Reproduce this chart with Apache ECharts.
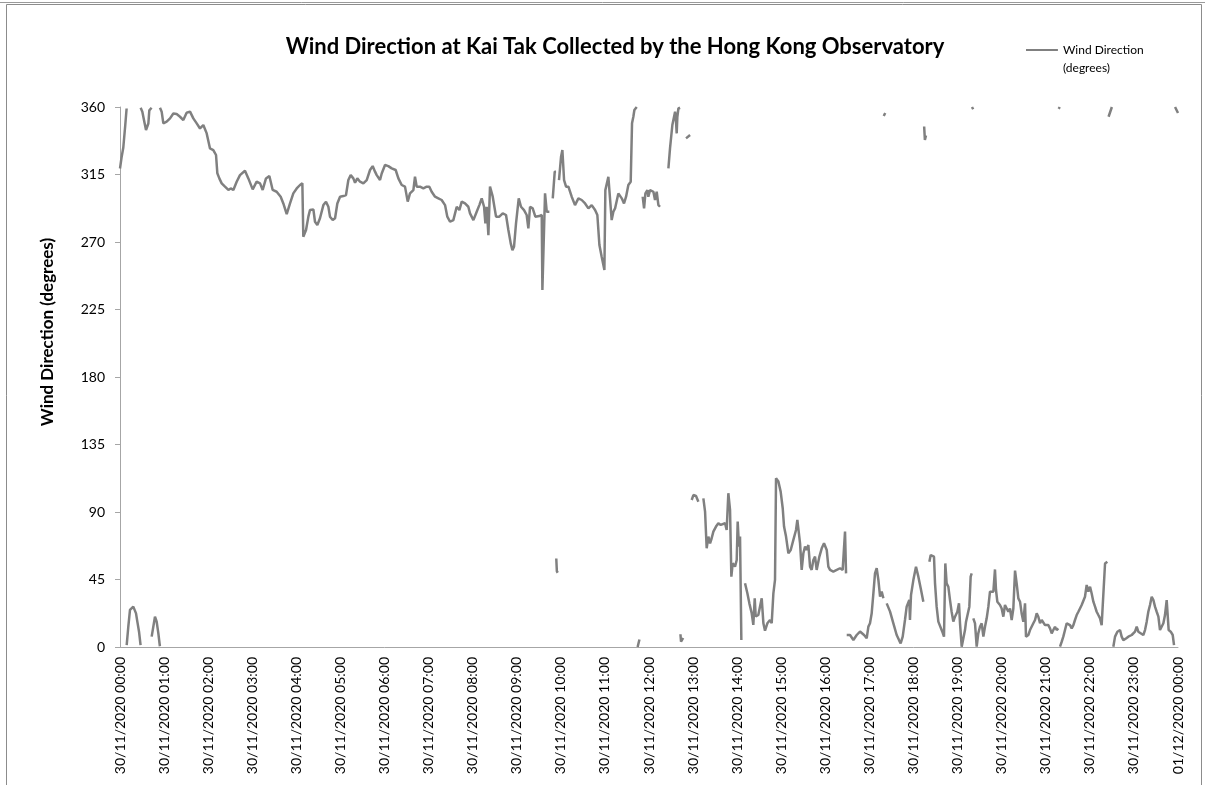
<!DOCTYPE html>
<html>
<head>
<meta charset="utf-8">
<script src="https://cdn.jsdelivr.net/npm/echarts@6/dist/echarts.min.js"></script>
<style>
html,body{margin:0;padding:0;background:#fff;}
#chart{width:1205px;height:785px;}
</style>
</head>
<body>
<div id="chart"></div>
<script>
// Hour tick labels (one per 60 minutes)
const tickLabels = [
  "30/11/2020 00:00","30/11/2020 01:00","30/11/2020 02:00","30/11/2020 03:00",
  "30/11/2020 04:00","30/11/2020 05:00","30/11/2020 06:00","30/11/2020 07:00",
  "30/11/2020 08:00","30/11/2020 09:00","30/11/2020 10:00","30/11/2020 11:00",
  "30/11/2020 12:00","30/11/2020 13:00","30/11/2020 14:00","30/11/2020 15:00",
  "30/11/2020 16:00","30/11/2020 17:00","30/11/2020 18:00","30/11/2020 19:00",
  "30/11/2020 20:00","30/11/2020 21:00","30/11/2020 22:00","30/11/2020 23:00",
  "01/12/2020 00:00"
];

// Minutes after 30/11/2020 00:00 of each reading (null degrees = gap in the line)
const minutes = [
  0,2,4.5,7,9, 9.05,
  9.1,11.3,13.6,18.1,21.8,23.6,25.9,28, 28.05,
  28.1,30.4,33.1,35.4,37.2,38.6,39.9,43, 43.05,
  43.1,47.6,49.9,52.2,54.3, 54.35,
  54.4,56.7,59,61.3,63.5,68.1,72.6,77.1,81.7,86.2,
  90.7,95.3,99.8,104.4,108.9,113.4,118,122.5,127,130.7,
  132.5,135.2,138.4,142.9,147.5,150.6,154.3,158.8,163.3,170.1,
  174.7,180.6,186,190.6,194.2,198.7,203.3,207.8,213.2,218.7,
  222.3,226.9,231.4,235.9,240.5,245,248.2,249.5,253.2,256.4,
  258.6,263.2,265.4,268.6,272.2,274.5,276.8,280.4,283.6,285.8,
  289.5,292.7,295.8,299.5,304,307.6,310.8,314,317.6,319.9,
  323,326.7,331.2,335.8,340.3,343.9,347.1,349.4,353.9,356.2,
  360.7,365.2,369.8,375.2,378.9,383.4,387.9,391.6,394.7,399.3,
  401.5,403.8,408.3,412.9,417.4,421,424.2,428.8,433.3,437.8,
  442.4,445.5,449.2,453.7,458.3,461.9,465.1,469.6,474.1,476.4,
  481,485.5,489.1,492.3,495.5,497.3,499.1,501.4,503.6,507.3,
  511.8,516.3,520.9,525.4,528.6,531.8,534.1,536.3,539,542.7,
  545.8,549.9,553.5,555.8,558.1,561.7,565.3,570.8,574,574.9,
  577.1,578.5,580.8,584.4, 586.5,
  589,591.7,593.5, 593.6,
  593.8,594.6,595.8, 596.5,
  597.5,600.3,602.1,603.5,604.4,607.1,610.3,614.8,619.3,623.9,
  628.4,633,637.5,642,646.6,649.7,652.5,655.6,659.3,660.6,
  664.7,667,669.2,671.5,673.8,678.3,682.9,686,688.8,691.9,
  695.1,696.9,698.7,700.1,703.3, 704,
  704.5,707, 709,
  711.4,713.3,715.1,717.8,719.1,721.4,726,728.2,730.5,732.8,735, 740,
  746.4,748.6,751.8,754.1,755.5,756.8,757.7,758.6,760,762.3, 762.5,
  762.8,763.6,766.5, 768,
  770.4,775.9, 777,
  778.1,780.4,784,787.2, 790,
  794,796.3,798.5,800.8,803.1,805.3,807.6,811.2,814.4,817.6,
  820.3,823.5,825.7,828,830.3,832.1,833.9,837.1,839.4,840.7,
  842.5,843.9,845.7, 848,
  850.7,853.9,856.6,859.8,862,863.9,865.2,868.8,873.4,875.7,
  877.9,881.1,884.7,887,889.3,891.5,892.9,896.1,899.2,902,
  903.8,906.5,909.7,912.9,916.5,920.1,921.9,923.7,925.6,927.8,
  930.1,932.4,934.6,936.9,939.2,941.4,943.7,946,948.2,951.9,
  955.1,958.2,961.9,964.1,966.4,970.9,975.5,980,983.6,986.8,
  988.2, 988.6,
  989.1,993.6,998.2,1002.7,1007.2,1009.5,1012.7,1016.3,1018.6,1020.8,
  1023.1,1025.4,1027.6,1029.9,1032.2,1034.5,1036.7,1039, 1039.2,
  1039.5,1041.5, 1042.5,
  1043.5,1045.8,1048.1,1052.6,1057.1,1060.3,1062.5,1065.3,1068.4,1070.7,
  1074.3,1075.2,1076.6,1079.8,1083.4,1086.6,1089.8,1093.4, 1094,
  1094.5,1095.5,1097, 1099,
  1101.6,1103.4,1107.9,1109.3,1111.5,1113.8,1116.1,1119.2,1121.5,1123.3,
  1125.1,1127.4,1129.7,1131.9,1134.2,1136.5,1139.7,1141.9,1143.3,1145.6,
  1147.8,1150.1,1151.5,1153.3,1156,1157.8,1159.2, 1159.4,
  1159.6,1161.2, 1161.3,
  1161.4,1163.7,1166,1168.2,1170.5,1172.8,1175.1,1177.3,1179.6,1181.9,
  1184.1,1186.4,1188.7,1190.9,1192.3,1194.1,1197.7,1200,1202.3,1204.5,
  1206.8,1209.1,1211.3,1213.6,1215.9,1218.2,1220.4,1222.7,1225,1227.2,
  1229.5,1231.8,1233.1,1236.3,1238.6,1240.8,1243.1,1245.4,1247.7,1249.9,
  1252.2,1254.5,1256.7,1259,1261.3,1263.5,1265.8,1268.1,1270.3,1272.6,
  1274.9,1277.1, 1277.3,
  1277.6,1279, 1279.2,
  1279.4,1281.7,1283.9,1286.2,1288.5,1290.7,1293,1295.3,1297.6,1299.8,
  1302.1,1304.4,1306.6,1308.9,1311.2,1313.4,1315.7,1318,1320.3,1322.5,
  1324.8,1327.1,1329.3,1331.6,1333.9,1336.1,1338.4,1340.7,1343.8, 1344.5,
  1345.5,1350, 1351,
  1352,1354.3,1357.5,1361.1,1363.3,1365.6,1369.2,1372.4,1374.7,1377,
  1379.2,1381.5,1383.8,1386,1388.3,1392.8,1395.1,1397.4,1399.6,1401.9,
  1404.2,1406.5,1408.7,1411,1413.3,1415.5,1417.8,1420.1,1422.3,1424.6,
  1426,1427.3,1430.1,1432.8,1434.6, 1435.3,
  1436,1440
];

// Wind direction in degrees for each reading above
const degrees = [
  319,326,333,347,359, null,
  1.3,13.5,24.7,26.9,22.4,16.9,10.2,1.3, null,
  359.5,356.9,350.2,344.7,343.6,349,357.8,359.5, null,
  6.9,20.2,16.9,9.1,0.5, null,
  359.5,356.9,349.1,348,350.2,352.4,355.7,355.3,353.5,351.3,
  356.2,356.9,352.4,349.1,345.7,348,342.4,332.4,331.3,328,
  315.8,312.4,309.1,306.9,304.7,305.7,304.7,310.2,314.6,317.5,
  312.4,305.1,310.2,309.1,304.7,312.4,314,304.7,303.5,300.2,
  295.7,288.6,295.7,302.4,305.7,308,309.1,273.5,278,286.9,
  291.3,291.7,283.5,281.3,285.8,285.8,294.6,296.9,293.5,286.9,
  284.6,285.8,295.7,300.2,300.6,301.3,311.3,314.6,312.4,309.5,
  312.4,310.2,309.1,311.3,318,320.6,316.9,314.6,311.3,315.7,
  321.3,320.6,319.1,318,312.4,308,306.9,296.9,302.4,304.6,
  313.5,306.9,306.9,305.8,306.9,306.9,303.5,300.2,299.1,298,
  294.6,286.9,283.5,284.6,293.5,291.3,296.9,295.7,293.5,289.1,
  284.6,290.2,294.6,299.1,293.5,282.4,293.5,274.6,306.9,300.2,
  286.9,286.9,289.1,288,278,269.1,264.6,266.9,282.4,299.1,
  293.5,291.3,288,279.1,293.5,292.4,286.9,287.3,288,238,
  239.1,302.4,290.2,290.2, null,
  299.1,316.9,316.9, null,
  59,50.5,49.5, null,
  311.3,326.9,331.3,330.2,311.3,306.9,306.9,300.2,294.6,299.1,
  298,295.7,292.4,294.6,291.3,288,268,260.2,251.3,304.6,
  313.5,313.1,284.6,290.2,292.4,302.4,299.1,295.7,300.2,308,
  310.2,349.1,353.5,358,360, null,
  0,5, null,
  300.2,292.4,302.4,304.6,300.2,304.6,303.5,298,303.5,294.6,293.5, null,
  319.1,332.4,348,353.5,356.9,350,342.4,353.5,359,359.5, null,
  8.5,3.5,6, null,
  339.1,341.3, null,
  98,101.3,100.7,96.9, null,
  99.1,90.3,65.8,73.6,69.1,72.5,76.9,80.3,82.5,81.4,
  80.3,82.5,78,102.5,91.4,46.9,55.8,53.6,58,83.6,
  66.9,73.6,4.7, null,
  42.5,35.8,29.1,22.5,14.7,32.5,20.3,21.4,32.5,15.8,
  10.9,15.8,18,15.8,35.8,44.7,112.5,110.3,103.6,92.5,
  80.3,73.6,62.5,64.7,71.4,78,84.7,83.6,69.1,51.4,
  62.5,66.9,64.7,68,53.6,51.4,58,60.3,51.4,60.3,
  65.8,69.1,64.7,53.6,51.4,50.3,51.4,52.5,51.4,76.9,
  49.1, null,
  8,8,4.7,8,10.3,11.4,8,5.8,13.6,15.8,
  22.5,35.8,49.1,52.5,44.7,33.6,36.9,32.5, null,
  354,356, null,
  29.1,29.1,23.6,15.8,8,4.6,2.4,6.9,18,26.9,
  31.3,18,34.6,44.6,53.5,46.9,39.1,30.2, null,
  347,338,341, null,
  56.9,61.3,60.2,42.4,26.9,16.9,15.8,10.2,6.9,55.7,
  42.4,40.2,31.3,23.5,16.9,20.2,23.5,29.1,15.8,0.2,
  0.2,11.3,16.9,18,26.9,46.9,49.1, null,
  360,358.5, null,
  19.1,15.8,0.2,9.1,13.5,15.8,6.9,13.5,19.1,26.9,
  36.9,38,36.9,51.7,38,30.2,28,25.7,20.2,28,
  26.9,23.5,25.7,18,25.7,50.9,42.4,32.4,30.2,22.4,
  16.9,29.1,6.9,8,11.3,12.4,15.8,18,22.4,20.2,
  15.8,18,16.9,14.6,15.8,14.6,12.4,9.1,11.3,13.5,
  11.3,12.4, null,
  358.7,360, null,
  0.2,3.5,6.9,11.3,15.8,16.9,14.6,12.4,14.6,18,
  21.3,23.5,25.7,28,26.9,33.5,41.3,36.9,40.2,35.7,
  30.2,26.9,23.5,21.3,19.1,14.6,14.6,55.7,56.9, null,
  353.5,360, null,
  0.2,6.9,10.2,11.3,6.9,4.6,5.7,6.9,8,8,
  9.1,10.2,13.5,10.2,9.1,8,11.3,16.9,23.5,28,
  33.5,31.3,26.9,23.5,20.2,11.3,10.2,15.8,21.3,31.3,
  32.4,11.3,10.2,8,1.3, null,
  360,356
];

const seriesName = "Wind Direction (degrees)";
const lineData = minutes.map((m, i) => [m, degrees[i] === null || degrees[i] === undefined ? null : degrees[i]]);

const chart = echarts.init(document.getElementById('chart'), null, {renderer: 'canvas'});
const FONT = 'Lato, "Open Sans", sans-serif';
chart.setOption({
  backgroundColor: '#ffffff',
  animation: false,
  textStyle: {fontFamily: FONT},
  title: {
    text: 'Wind Direction at Kai Tak Collected by the Hong Kong Observatory',
    left: 610, top: 31, textAlign: 'center',
    textStyle: {fontSize: 22, fontWeight: 'bold', color: '#000', fontFamily: FONT}
  },
  legend: {
    left: 1021, top: 36,
    itemWidth: 32, itemHeight: 20,
    icon: 'path://M0 0H32V2H0Z M0 20H0.05V20.05H0Z',
    formatter: () => 'Wind Direction\n(degrees)',
    textStyle: {fontSize: 12, color: '#000', lineHeight: 18, fontFamily: FONT},
    data: [seriesName]
  },
  grid: {left: 120, right: 27, top: 107, bottom: 138, containLabel: false},
  xAxis: {
    type: 'value', min: 0, max: 1440, interval: 60,
    axisLine: {show: true, lineStyle: {color: '#a6a6a6', width: 1}},
    axisTick: {show: false},
    splitLine: {show: false},
    axisLabel: {
      rotate: 90, margin: 10, fontSize: 14, color: '#000', fontFamily: FONT,
      formatter: v => tickLabels[Math.round(v / 60)] || ''
    }
  },
  yAxis: {
    type: 'value', min: 0, max: 360, interval: 45,
    name: 'Wind Direction (degrees)', nameLocation: 'middle', nameRotate: 90, nameGap: 64,
    nameTextStyle: {fontSize: 17, fontWeight: 'bold', color: '#000', fontFamily: FONT, padding: [0, 0, 0, 90]},
    axisLine: {show: true, lineStyle: {color: '#a6a6a6', width: 1}},
    axisTick: {show: true, inside: false, length: 5, lineStyle: {color: '#a6a6a6'}},
    splitLine: {show: false},
    axisLabel: {margin: 15, fontSize: 14, color: '#000', fontFamily: FONT}
  },
  series: [{
    name: seriesName,
    type: 'line',
    data: lineData,
    showSymbol: false,
    connectNulls: false,
    clip: true,
    lineStyle: {color: '#808080', width: 2.5},
    itemStyle: {color: '#808080'},
    emphasis: {disabled: true}
  }],
  graphic: [
    {type: 'line', shape: {x1: 0, y1: 2.5, x2: 1205, y2: 2.5}, style: {stroke: '#9a9a9a', lineWidth: 1}, silent: true},
    {type: 'rect', shape: {x: 6.5, y: 4.5, width: 1195, height: 900}, style: {fill: 'none', stroke: '#8c8c8c', lineWidth: 1}, silent: true}
  ]
});
</script>
</body>
</html>
